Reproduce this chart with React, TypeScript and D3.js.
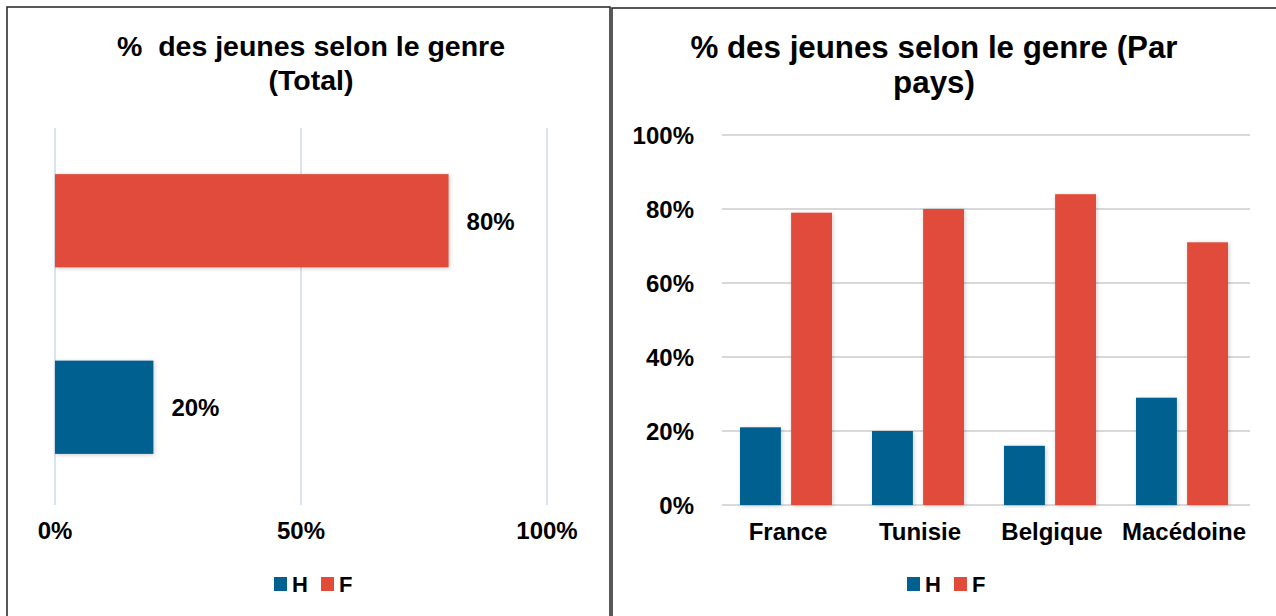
import React from 'react'
import * as d3 from 'd3'

// left chart: total
const totalCats = ['F', 'H']
const totalValues = [0.8, 0.2]
const totalTicks = [0, 0.5, 1]

// right chart: by country
const countries = ['France', 'Tunisie', 'Belgique', 'Macédoine']
const hValues = [0.21, 0.2, 0.16, 0.29]
const fValues = [0.79, 0.8, 0.84, 0.71]
const countryTicks = [0, 0.2, 0.4, 0.6, 0.8, 1]

const BLUE = '#00608f'
const RED = '#e04b3a'
const FONT = '"Liberation Sans", Arial, sans-serif'

const pct = d3.format('.0%')

const Legend = ({ cx, y }: { cx: number; y: number }) => (
  <g transform={`translate(${cx},${y})`} fontFamily={FONT} fontWeight="bold" fontSize={22}>
    <rect x={-36} y={-7} width={13} height={14} fill={BLUE} />
    <text x={-18} y={8}>H</text>
    <rect x={11} y={-7} width={13} height={14} fill={RED} />
    <text x={29} y={8}>F</text>
  </g>
)

const App = () => {
  // left
  const xL = d3.scaleLinear().domain([0, 1]).range([55, 547])
  const yL = d3.scaleBand().domain(totalCats).range([127.5, 500.5]).paddingInner(0.5).paddingOuter(0.25)
  const colorL: Record<string, string> = { F: RED, H: BLUE }

  // right
  const x0 = d3.scaleBand().domain(countries).range([722, 1250])
  const x1 = d3.scaleBand().domain(['H', 'F']).range([18, 110]).paddingInner(0.2)
  const yR = d3.scaleLinear().domain([0, 1]).range([505, 135])

  return (
    <svg width={1276} height={616} style={{ position: 'absolute', left: 0, top: 0 }}>
      <defs>
        <filter id="sh" x="-20%" y="-5%" width="140%" height="110%">
          <feDropShadow dx="1" dy="1" stdDeviation="2" floodColor="#000" floodOpacity="0.2" />
        </filter>
      </defs>
      <rect x={0} y={0} width={1276} height={616} fill="#fff" />
      {/* panel borders */}
      <rect x={7} y={7} width={603} height={620} fill="none" stroke="#222" strokeWidth={1.5} />
      <rect x={612} y={8} width={680} height={620} fill="none" stroke="#222" strokeWidth={1.5} />

      {/* left chart */}
      <g fontFamily={FONT} fontWeight="bold" textAnchor="middle" fontSize={28.5}>
        <text x={311} y={56} style={{ whiteSpace: 'pre' }}>{'%  des jeunes selon le genre'}</text>
        <text x={311} y={90}>(Total)</text>
      </g>
      {totalTicks.map(t => (
        <g key={t}>
          <line x1={xL(t)} x2={xL(t)} y1={128} y2={505} stroke="#dae3f3" strokeWidth={2} />
          <text x={xL(t)} y={539} textAnchor="middle" fontFamily={FONT} fontWeight="bold" fontSize={24}>
            {pct(t)}
          </text>
        </g>
      ))}
      {totalCats.map((c, i) => (
        <g key={c}>
          <rect x={xL(0)} y={yL(c)} width={xL(totalValues[i]) - xL(0)} height={yL.bandwidth()}
            fill={colorL[c]} filter="url(#sh)" />
          <text x={xL(totalValues[i]) + 18} y={yL(c)! + yL.bandwidth() / 2 + 9}
            fontFamily={FONT} fontWeight="bold" fontSize={24}>{pct(totalValues[i])}</text>
        </g>
      ))}
      <Legend cx={310} y={584} />

      {/* right chart */}
      <g fontFamily={FONT} fontWeight="bold" textAnchor="middle" fontSize={31.3}>
        <text x={934} y={58}>% des jeunes selon le genre (Par</text>
        <text x={934} y={93}>pays)</text>
      </g>
      {countryTicks.map(t => (
        <g key={t}>
          <line x1={722} x2={1250} y1={yR(t)} y2={yR(t)} stroke="#d9d9d9" strokeWidth={2} />
          <text x={694} y={yR(t) + 9} textAnchor="end" fontFamily={FONT} fontWeight="bold" fontSize={24}>
            {pct(t)}
          </text>
        </g>
      ))}
      {countries.map((c, i) => (
        <g key={c} transform={`translate(${x0(c)},0)`}>
          <rect x={x1('H')} y={yR(hValues[i])} width={x1.bandwidth()} height={yR(0) - yR(hValues[i])}
            fill={BLUE} filter="url(#sh)" />
          <rect x={x1('F')} y={yR(fValues[i])} width={x1.bandwidth()} height={yR(0) - yR(fValues[i])}
            fill={RED} filter="url(#sh)" />
          <text x={x0.bandwidth() / 2} y={540} textAnchor="middle" fontFamily={FONT} fontWeight="bold" fontSize={24}>
            {c}
          </text>
        </g>
      ))}
      <Legend cx={943} y={584} />
    </svg>
  )
}

export default App
